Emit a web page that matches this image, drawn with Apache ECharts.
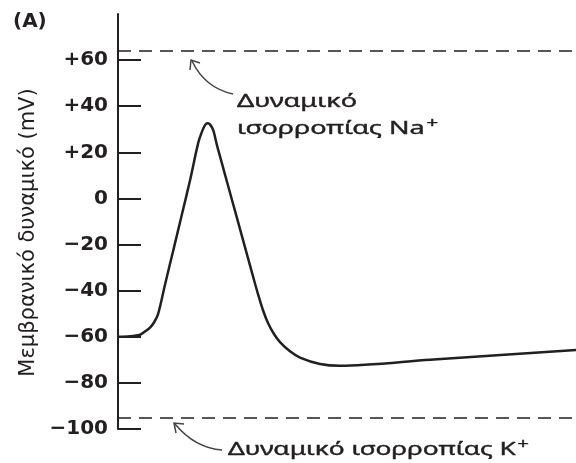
<!DOCTYPE html>
<html>
<head>
<meta charset="utf-8">
<script src="https://cdn.jsdelivr.net/npm/echarts@6/dist/echarts.min.js"></script>
<style>
html, body { margin: 0; padding: 0; background: #fff; }
#chart { width: 576px; height: 463px; }
</style>
</head>
<body>
<div id="chart"></div>
<script>
// time (arbitrary units) and membrane potential (mV) of the action potential
var time = [0, 2.62, 4.80, 5.90, 6.99, 7.86, 8.73, 10.26, 12.01, 13.91, 15.72, 17.53, 18.34, 19.0, 19.59, 20.20, 20.81, 21.62, 22.71, 24.02, 25.55, 27.29, 29.48, 30.57, 31.66, 32.75, 34.06, 35.37, 37.55, 39.74, 44.10, 48.47, 68.12, 100];
var voltage = [-60, -59.8, -59.1, -57.7, -56, -53.8, -50.3, -37.4, -23, -7.3, 7.8, 24.2, 29, 31.8, 32.6, 31.8, 29.5, 23, 15.1, 5.6, -5.4, -18, -33.8, -41.5, -48.5, -54, -58.8, -62.3, -66.3, -69, -71.8, -72.6, -70, -65.7];
var yTicks = [-100, -80, -60, -40, -20, 0, 20, 40, 60];
var naEquilibrium = 64;
var kEquilibrium = -95;

var points = time.map(function (t, i) { return [t, voltage[i]]; });
var ink = '#231f20';
var font = '"Noto Sans", "Open Sans", sans-serif';
var wideFont = '"DejaVu Sans", sans-serif';
var rich = { s: { fontSize: 14, padding: [0, 0, 9, 1], fill: ink, fontFamily: font } };

var chart = echarts.init(document.getElementById('chart'));
chart.setOption({
  backgroundColor: '#ffffff',
  animation: false,
  title: {
    text: '(A)',
    left: 8,
    top: 7,
    textStyle: { fontSize: 20, fontWeight: 'bold', color: ink, fontFamily: wideFont }
  },
  grid: { left: 118, right: 0, top: 14, bottom: 34 },
  xAxis: {
    type: 'value',
    min: 0,
    max: 100,
    show: false
  },
  yAxis: {
    type: 'value',
    min: -100,
    max: 80,
    interval: 20,
    name: 'Μεμβρανικό δυναμικό (mV)',
    nameLocation: 'middle',
    nameGap: 77,
    nameTextStyle: { fontSize: 21, color: ink, fontFamily: wideFont, padding: [0, 22, 0, 0] },
    splitLine: { show: false },
    axisLine: { show: true, lineStyle: { color: ink, width: 2 } },
    axisTick: {
      show: true,
      inside: true,
      length: 23,
      customValues: yTicks,
      lineStyle: { color: ink, width: 2 }
    },
    axisLabel: {
      margin: 10,
      customValues: yTicks,
      fontSize: 20,
      fontWeight: 'bold',
      color: ink,
      fontFamily: wideFont,
      formatter: function (v) {
        if (v > 0) return '+' + v;
        if (v < 0) return '\u2212' + Math.abs(v);
        return '0';
      }
    }
  },
  series: [{
    type: 'line',
    data: points,
    smooth: 0.3,
    showSymbol: false,
    lineStyle: { color: ink, width: 2.5 },
    markLine: {
      silent: true,
      symbol: ['none', 'none'],
      label: { show: false },
      lineStyle: { color: ink, width: 1.5, type: [13, 8] },
      data: [{ yAxis: naEquilibrium }, { yAxis: kEquilibrium }]
    }
  }],
  graphic: [
    {
      type: 'text',
      x: 237,
      y: 88,
      scaleX: 1.5,
      style: {
        text: 'Δυναμικό\nισορροπίας Na{s|+}',
        fontSize: 18,
        lineHeight: 27,
        fill: ink,
        stroke: ink,
        lineWidth: 0.4,
        fontFamily: font,
        verticalAlign: 'top',
        rich: rich
      }
    },
    {
      type: 'text',
      x: 228,
      y: 436,
      scaleX: 1.46,
      style: {
        text: 'Δυναμικό ισορροπίας K{s|+}',
        fontSize: 18,
        lineHeight: 27,
        fill: ink,
        stroke: ink,
        lineWidth: 0.4,
        fontFamily: font,
        verticalAlign: 'top',
        rich: rich
      }
    },
    {
      type: 'bezierCurve',
      shape: { x1: 233, y1: 94, x2: 192, y2: 61, cpx1: 205, cpy1: 88 },
      style: { stroke: '#444', lineWidth: 1.5, fill: null }
    },
    {
      type: 'polyline',
      shape: { points: [[190, 70], [191, 60], [200, 63]] },
      style: { stroke: '#444', lineWidth: 1.5, fill: null }
    },
    {
      type: 'bezierCurve',
      shape: { x1: 222, y1: 450, x2: 175, y2: 424, cpx1: 195, cpy1: 448 },
      style: { stroke: '#444', lineWidth: 1.5, fill: null }
    },
    {
      type: 'polyline',
      shape: { points: [[176, 433], [174, 423], [184, 424]] },
      style: { stroke: '#444', lineWidth: 1.5, fill: null }
    }
  ]
});
</script>
</body>
</html>
